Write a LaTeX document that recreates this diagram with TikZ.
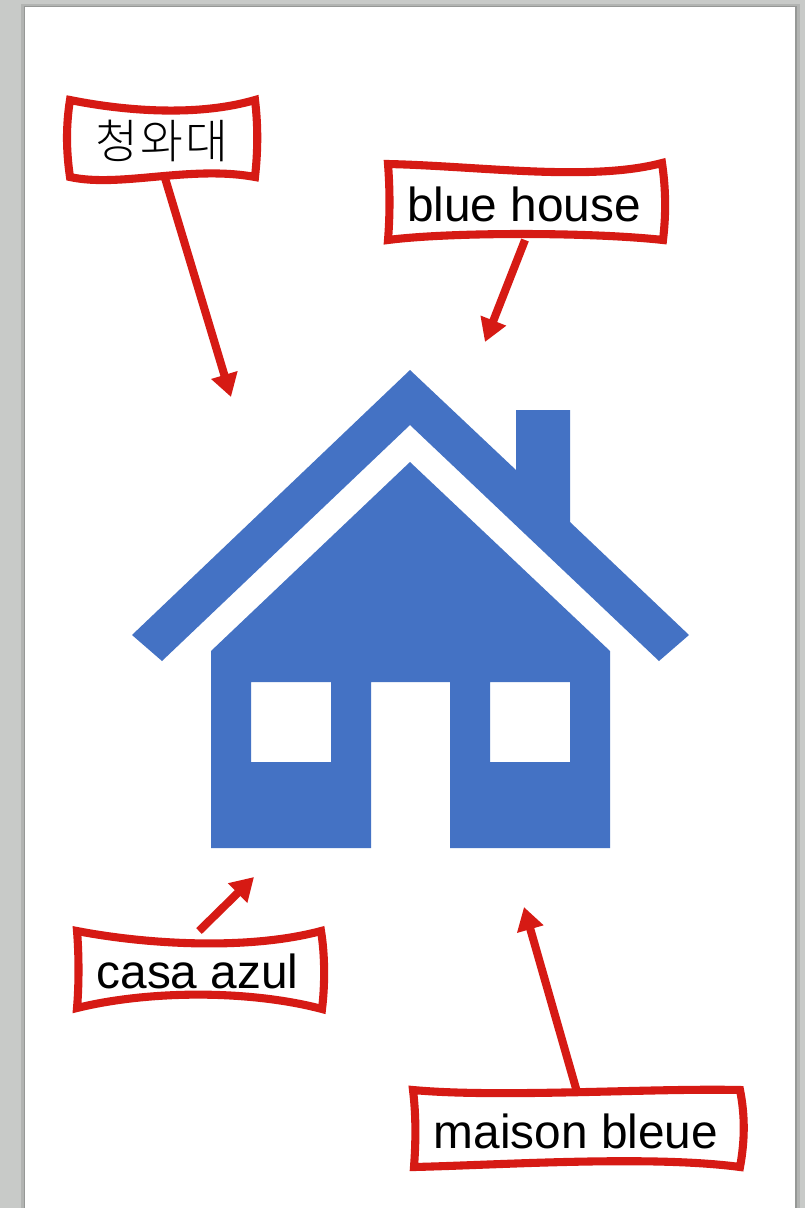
\documentclass[tikz,border=0pt]{standalone}
\usepackage{fontspec}
\setmainfont{Liberation Sans}
\newfontfamily\coreano{Noto Sans CJK KR Light}
\usetikzlibrary{arrows.meta}

\definecolor{blucasa}{RGB}{68,114,196}
\definecolor{rossocornice}{RGB}{214,26,20}
\definecolor{grigiofondo}{RGB}{200,202,200}
\definecolor{grigioombra}{RGB}{178,180,178}
\definecolor{grigioscuro}{RGB}{150,152,150}

\begin{document}
\begin{tikzpicture}[
  x=0.02cm, y=-0.02cm,
  cornice/.style={draw=rossocornice, line width=4.6pt, miter limit=10, fill=white},
  freccia/.style={draw=rossocornice, line width=4.6pt, -{Triangle[length=0.46cm, width=0.52cm, fill=rossocornice]}},
  etichetta/.style={inner sep=0pt, anchor=base, font=\fontsize{27.2}{27.2}\selectfont},
  casa/.style={fill=blucasa, even odd rule}
]
\useasboundingbox (0,0) rectangle (805,1208);

%--------------------------------------------------------------
% Fondo e foglio
%--------------------------------------------------------------
\fill[grigiofondo] (0,0) rectangle (805,1208);
\fill[grigioombra] (21,4) rectangle (800,1208);
\fill[grigioscuro] (23.5,6) rectangle (797,1208);
\fill[white] (25,7) rectangle (795,1208);

%--------------------------------------------------------------
% Casa: tetto con comignolo, corpo con finestre e porta
%--------------------------------------------------------------
\fill[casa] (410,370) -- (516,470) -- (516,410) -- (570,410) -- (570,522) -- (689,635)
  -- (659,661) -- (410,425) -- (162,661) -- (132,635) -- cycle;
\fill[casa] (410,462) -- (610,651) -- (610,848) -- (450,848) -- (450,682) -- (371,682)
  -- (371,848) -- (211,848) -- (211,651) -- cycle
  (251,682) rectangle (331,762)
  (490,682) rectangle (570,762);

%--------------------------------------------------------------
% Estremi delle frecce
%--------------------------------------------------------------
\coordinate (piedecoreano) at (165,178);
\coordinate (puntacoreano) at (231,397);
\coordinate (piedeblue) at (525,240);
\coordinate (puntablue) at (485,342);
\coordinate (piedecasa) at (199,931);
\coordinate (puntacasa) at (254,877);
\coordinate (piedemaison) at (577,1092);
\coordinate (puntamaison) at (524,907);

\draw[freccia] (piedecoreano) -- (puntacoreano);
\draw[freccia] (piedeblue) -- (puntablue);
\draw[freccia] (piedecasa) -- (puntacasa);
\draw[freccia] (piedemaison) -- (puntamaison);

%--------------------------------------------------------------
% Cornici ondulate
%--------------------------------------------------------------
\draw[cornice] (70,100) .. controls (130,112) and (200,116) .. (255,100)
  .. controls (258,125) and (258,150) .. (255,177)
  .. controls (190,165) and (120,188) .. (70,177)
  .. controls (66,150) and (66,125) .. (70,100) -- cycle;
\draw[cornice] (388,164) .. controls (480,166) and (590,182) .. (662,163)
  .. controls (666,190) and (666,215) .. (663,240)
  .. controls (590,232) and (450,232) .. (388,240)
  .. controls (390,215) and (390,190) .. (388,164) -- cycle;
\draw[cornice] (77,931) .. controls (150,945) and (250,950) .. (321,931)
  .. controls (325,955) and (325,985) .. (322,1009)
  .. controls (250,990) and (150,990) .. (77,1008)
  .. controls (79,985) and (79,955) .. (77,931) -- cycle;
\draw[cornice] (413,1090) .. controls (500,1098) and (650,1088) .. (740,1090)
  .. controls (745,1115) and (745,1140) .. (740,1167)
  .. controls (650,1155) and (500,1165) .. (414,1167)
  .. controls (416,1140) and (416,1115) .. (413,1090) -- cycle;

%--------------------------------------------------------------
% Etichette
%--------------------------------------------------------------
\node[etichetta] (coreano) at (162,158) {\coreano\fontsize{26.5}{26.5}\selectfont 청\kern1pt 와\kern1pt 대};
\node[etichetta] (blue) at (524,221) {blue house};
\node[etichetta] (azul) at (197.5,988.5) {casa azul};
\node[etichetta] (maison) at (576,1148.5) {maison bleue};

\end{tikzpicture}
\end{document}
